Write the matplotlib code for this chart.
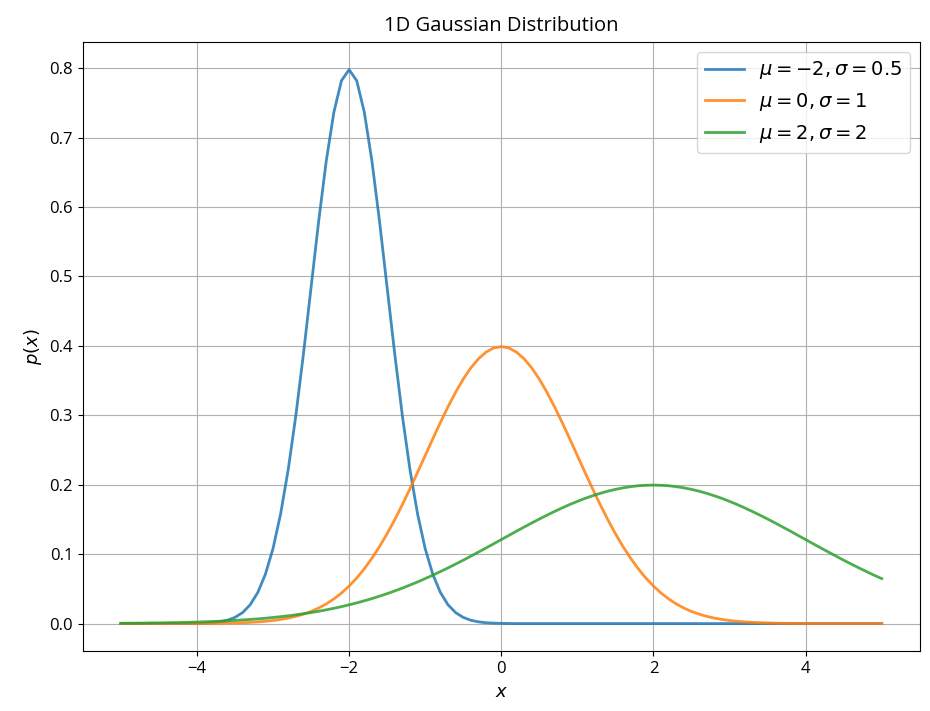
import numpy as np
import matplotlib
matplotlib.use('Agg')
import matplotlib.pyplot as plt

plt.rcParams['font.family'] = ['Open Sans', 'DejaVu Sans']
plt.rcParams['font.size'] = 12
plt.rcParams['axes.unicode_minus'] = True

# sample points along x (step 0.1 from -5 to 5)
x = np.linspace(-5, 5, 101)

# mu=-2, sigma=0.5
p_blue = [
    0.0000, 0.0000, 0.0000, 0.0000, 0.0000, 0.0000, 0.0000, 0.0000, 0.0000, 0.0001,
    0.0003, 0.0006, 0.0012, 0.0025, 0.0048, 0.0089, 0.0158, 0.0271, 0.0448, 0.0710,
    0.1080, 0.1579, 0.2218, 0.2995, 0.3884, 0.4839, 0.5794, 0.6664, 0.7366, 0.7821,
    0.7979, 0.7821, 0.7366, 0.6664, 0.5794, 0.4839, 0.3884, 0.2995, 0.2218, 0.1579,
    0.1080, 0.0710, 0.0448, 0.0271, 0.0158, 0.0089, 0.0048, 0.0025, 0.0012, 0.0006,
    0.0003, 0.0001, 0.0000, 0.0000, 0.0000, 0.0000, 0.0000, 0.0000, 0.0000, 0.0000,
    0.0000, 0.0000, 0.0000, 0.0000, 0.0000, 0.0000, 0.0000, 0.0000, 0.0000, 0.0000,
    0.0000, 0.0000, 0.0000, 0.0000, 0.0000, 0.0000, 0.0000, 0.0000, 0.0000, 0.0000,
    0.0000, 0.0000, 0.0000, 0.0000, 0.0000, 0.0000, 0.0000, 0.0000, 0.0000, 0.0000,
    0.0000, 0.0000, 0.0000, 0.0000, 0.0000, 0.0000, 0.0000, 0.0000, 0.0000, 0.0000,
    0.0000,
]

# mu=0, sigma=1
p_orange = [
    0.0000, 0.0000, 0.0000, 0.0000, 0.0000, 0.0000, 0.0000, 0.0000, 0.0001, 0.0001,
    0.0001, 0.0002, 0.0003, 0.0004, 0.0006, 0.0009, 0.0012, 0.0017, 0.0024, 0.0033,
    0.0044, 0.0060, 0.0079, 0.0104, 0.0136, 0.0175, 0.0224, 0.0283, 0.0355, 0.0440,
    0.0540, 0.0656, 0.0790, 0.0941, 0.1109, 0.1295, 0.1497, 0.1714, 0.1942, 0.2179,
    0.2420, 0.2661, 0.2897, 0.3123, 0.3332, 0.3521, 0.3683, 0.3814, 0.3910, 0.3970,
    0.3989, 0.3970, 0.3910, 0.3814, 0.3683, 0.3521, 0.3332, 0.3123, 0.2897, 0.2661,
    0.2420, 0.2179, 0.1942, 0.1714, 0.1497, 0.1295, 0.1109, 0.0941, 0.0790, 0.0656,
    0.0540, 0.0440, 0.0355, 0.0283, 0.0224, 0.0175, 0.0136, 0.0104, 0.0079, 0.0060,
    0.0044, 0.0033, 0.0024, 0.0017, 0.0012, 0.0009, 0.0006, 0.0004, 0.0003, 0.0002,
    0.0001, 0.0001, 0.0001, 0.0000, 0.0000, 0.0000, 0.0000, 0.0000, 0.0000, 0.0000,
    0.0000,
]

# mu=2, sigma=2
p_green = [
    0.0004, 0.0005, 0.0006, 0.0007, 0.0009, 0.0010, 0.0012, 0.0014, 0.0016, 0.0019,
    0.0022, 0.0026, 0.0030, 0.0034, 0.0040, 0.0046, 0.0052, 0.0060, 0.0068, 0.0077,
    0.0088, 0.0099, 0.0112, 0.0126, 0.0142, 0.0159, 0.0177, 0.0198, 0.0220, 0.0244,
    0.0270, 0.0298, 0.0328, 0.0360, 0.0395, 0.0431, 0.0470, 0.0511, 0.0555, 0.0600,
    0.0648, 0.0697, 0.0749, 0.0802, 0.0857, 0.0913, 0.0971, 0.1030, 0.1089, 0.1149,
    0.1210, 0.1270, 0.1331, 0.1390, 0.1449, 0.1506, 0.1561, 0.1615, 0.1666, 0.1715,
    0.1760, 0.1803, 0.1841, 0.1876, 0.1907, 0.1933, 0.1955, 0.1972, 0.1985, 0.1992,
    0.1995, 0.1992, 0.1985, 0.1972, 0.1955, 0.1933, 0.1907, 0.1876, 0.1841, 0.1803,
    0.1760, 0.1715, 0.1666, 0.1615, 0.1561, 0.1506, 0.1449, 0.1390, 0.1331, 0.1270,
    0.1210, 0.1149, 0.1089, 0.1030, 0.0971, 0.0913, 0.0857, 0.0802, 0.0749, 0.0697,
    0.0648,
]

labels = [r'$\mu=-2, \sigma=0.5$', r'$\mu=0, \sigma=1$', r'$\mu=2, \sigma=2$']

fig, ax = plt.subplots(figsize=(9.3, 7.11), dpi=100)
fig.subplots_adjust(left=0.089, right=0.989, top=0.941, bottom=0.084)

lw = 2.0
ax.plot(x, p_blue, label=labels[0], lw=lw, alpha=0.85)
ax.plot(x, p_orange, label=labels[1], lw=lw, alpha=0.85)
ax.plot(x, p_green, label=labels[2], lw=lw, alpha=0.85)

ax.set_title('1D Gaussian Distribution', fontsize=14.5, pad=8)
ax.set_xlabel('$x$', fontsize=13)
ax.set_ylabel('$p(x)$', fontsize=13)
ax.grid(True)
ax.legend(loc='upper right', fontsize=14)

fig.savefig('out.png', dpi=100)
